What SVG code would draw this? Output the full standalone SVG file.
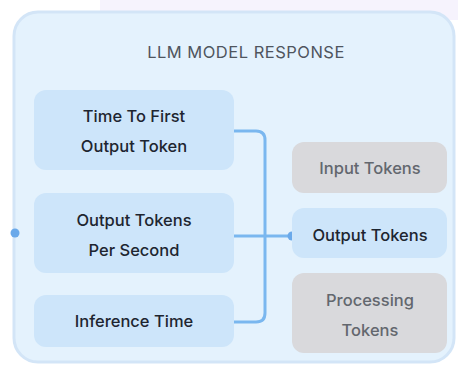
<svg xmlns="http://www.w3.org/2000/svg" width="458" height="370" viewBox="0 0 458 370">
  <style>
    .panel { fill: #e4f2fd; stroke: #d3e5f7; stroke-width: 3; }
    .metric { fill: #cde5fa; }
    .token { fill: #d9d9dc; }
    .token-active { fill: #cde5fa; }
    .label { font-family: Inter, "Noto Sans", sans-serif; font-size: 16.5px; font-weight: 500; fill: #1e2530; text-anchor: middle; }
    .muted { fill: #63676e; }
    .title { font-family: Inter, "Noto Sans", sans-serif; font-size: 16.5px; font-weight: 400; letter-spacing: 0.5px; fill: #4f555e; text-anchor: middle; }
    .wire { fill: none; stroke: #7ab7ef; stroke-width: 3; stroke-linecap: round; stroke-linejoin: round; }
    .dot { fill: #6aa9ea; }
  </style>

  <!-- page backdrop -->
  <rect x="0" y="0" width="458" height="370" fill="#ffffff"/>
  <rect x="100" y="0" width="358" height="20" fill="#f6f3fd"/>

  <!-- outer panel -->
  <g id="llm-model-response">
    <rect class="panel" x="14" y="12" width="440" height="350" rx="24"/>
    <text class="title" x="246" y="58">LLM MODEL RESPONSE</text>
  </g>

  <!-- connectors -->
  <g id="connectors">
    <path class="wire" d="M234 131 H256 Q265 131 265 140 V313 Q265 322 256 322 H234"/>
    <path class="wire" d="M234 236 H292"/>
    <circle class="dot" cx="292" cy="236" r="4.5"/>
    <circle class="dot" cx="15" cy="233" r="4.5"/>
  </g>

  <g id="time-to-first-output-token">
    <rect class="metric" x="34" y="90" width="200" height="80" rx="12"/>
    <text class="label" x="134" y="122">Time To First</text>
    <text class="label" x="134" y="152">Output Token</text>
  </g>

  <g id="output-tokens-per-second">
    <rect class="metric" x="34" y="193" width="200" height="80" rx="12"/>
    <text class="label" x="134" y="226">Output Tokens</text>
    <text class="label" x="134" y="256">Per Second</text>
  </g>

  <g id="inference-time">
    <rect class="metric" x="34" y="295" width="200" height="52" rx="12"/>
    <text class="label" x="134" y="327">Inference Time</text>
  </g>

  <g id="input-tokens">
    <rect class="token" x="292" y="142" width="155" height="51" rx="12"/>
    <text class="label muted" x="370" y="174">Input Tokens</text>
  </g>

  <g id="output-tokens">
    <rect class="token-active" x="292" y="208" width="155" height="50" rx="12"/>
    <text class="label" x="370" y="241">Output Tokens</text>
  </g>

  <g id="processing-tokens">
    <rect class="token" x="292" y="273" width="155" height="80" rx="12"/>
    <text class="label muted" x="370" y="306">Processing</text>
    <text class="label muted" x="370" y="336">Tokens</text>
  </g>
</svg>
